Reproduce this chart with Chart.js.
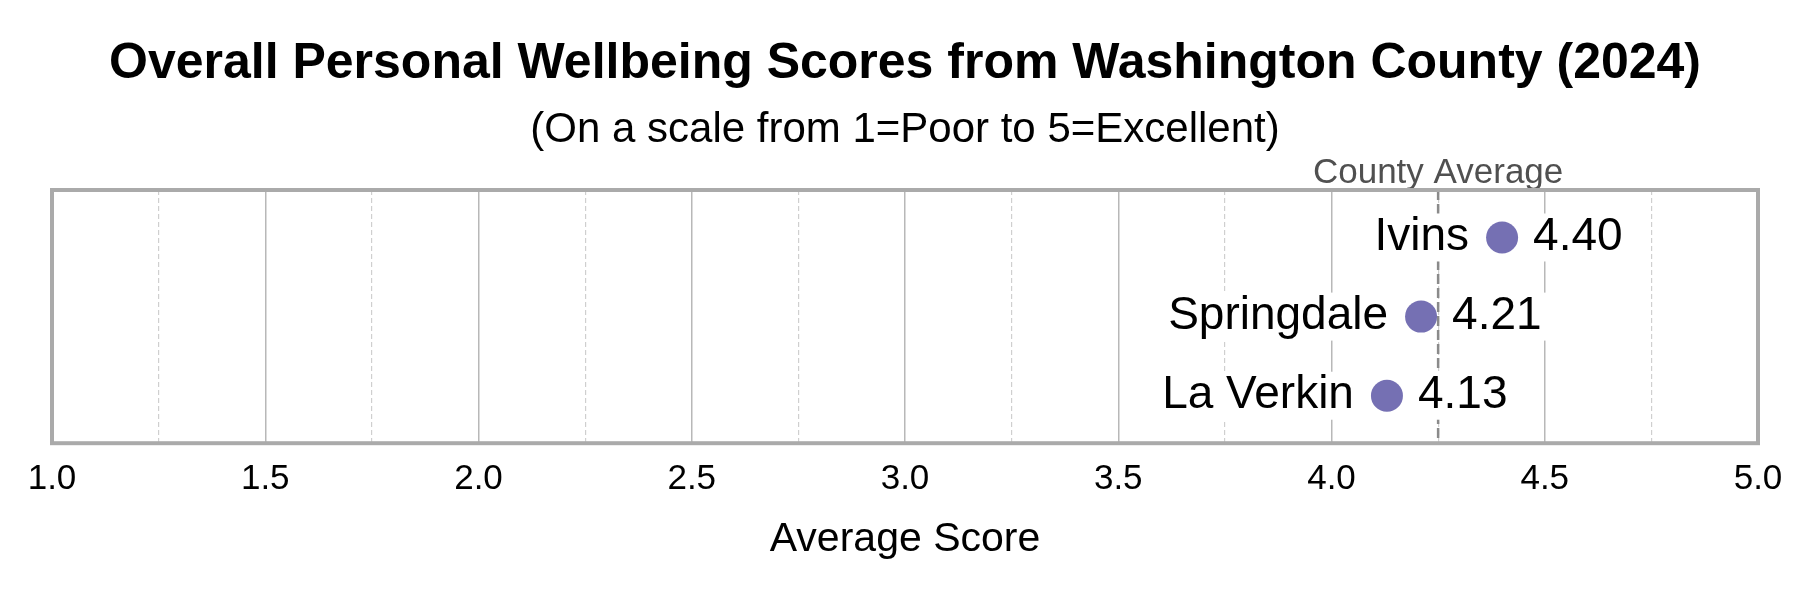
<!DOCTYPE html>
<html>
<head>
<meta charset="utf-8">
<title>Overall Personal Wellbeing Scores</title>
<script src="https://cdn.jsdelivr.net/npm/chart.js@4.4.1/dist/chart.umd.min.js"></script>
<style>
  html, body { margin: 0; padding: 0; background: #fff; }
  #wrap { width: 1800px; height: 600px; }
</style>
</head>
<body>
<div id="wrap"><canvas id="chart"></canvas></div>
<script>
// --- DATA ---
const places = ["Ivins", "Springdale", "La Verkin"];
const scores = [4.40, 4.21, 4.13];
const countyAverage = 4.25;
const tickValues = [1.0, 1.5, 2.0, 2.5, 3.0, 3.5, 4.0, 4.5, 5.0];
const minorTickValues = [1.25, 1.75, 2.25, 2.75, 3.25, 3.75, 4.25, 4.75];

// --- STYLE ---
const FONT = "'Liberation Sans', Arial, sans-serif";
const DOT = "#7570b3";

Chart.defaults.font.family = FONT;
Chart.defaults.color = "#000";

const isMajor = (v) => tickValues.includes(v);
const isMinor = (c) => c.tick && minorTickValues.includes(c.tick.value);

// dashed county average line + its label above the frame
const countyLine = {
  id: "countyLine",
  beforeDatasetsDraw(chart) {
    const { ctx, chartArea: a, scales: { x } } = chart;
    const px = x.getPixelForValue(countyAverage);
    ctx.save();
    ctx.strokeStyle = "#8a8a8a";
    ctx.lineWidth = 2.5;
    ctx.setLineDash([10, 4]);
    ctx.beginPath();
    ctx.moveTo(px, a.top);
    ctx.lineTo(px, a.bottom);
    ctx.stroke();
    ctx.setLineDash([]);
    ctx.fillStyle = "#505050";
    ctx.font = `35px ${FONT}`;
    ctx.textAlign = "center";
    ctx.textBaseline = "alphabetic";
    ctx.fillText("County Average", px, a.top - 7);
    ctx.restore();
  }
};

// name on the left, value on the right, each on a white box
const pointLabels = {
  id: "pointLabels",
  afterDatasetsDraw(chart) {
    const { ctx } = chart;
    const meta = chart.getDatasetMeta(0);
    ctx.save();
    ctx.font = `46px ${FONT}`;
    ctx.textBaseline = "middle";
    meta.data.forEach((pt, i) => {
      const r = pt.options.radius;
      const name = places[i];
      const val = scores[i].toFixed(2);
      const nameRight = pt.x - r - 17;
      const valLeft = pt.x + r + 15;
      const nw = ctx.measureText(name).width;
      const vw = ctx.measureText(val).width;
      ctx.fillStyle = "#fff";
      ctx.fillRect(nameRight - nw - 7, pt.y - 24, nw + 14, 48);
      ctx.fillRect(valLeft - 7, pt.y - 24, vw + 14, 48);
      ctx.fillStyle = "#000";
      ctx.textAlign = "right";
      ctx.fillText(name, nameRight, pt.y);
      ctx.textAlign = "left";
      ctx.fillText(val, valLeft, pt.y);
    });
    ctx.restore();
  }
};

const frame = {
  id: "frame",
  afterDraw(chart) {
    const { ctx, chartArea: a } = chart;
    ctx.save();
    ctx.strokeStyle = "#aaaaaa";
    ctx.lineWidth = 4;
    ctx.strokeRect(a.left, a.top, a.right - a.left, a.bottom - a.top);
    ctx.restore();
  }
};

new Chart(document.getElementById("chart"), {
  type: "scatter",
  data: {
    datasets: [
      {
        data: scores.map((s, i) => ({ x: s, y: i })),
        backgroundColor: DOT,
        borderWidth: 0,
        pointRadius: 16,
        pointHoverRadius: 16,
      },
    ],
  },
  options: {
    responsive: true,
    maintainAspectRatio: false,
    animation: false,
    layout: { padding: { top: 0, left: 52, right: 42, bottom: 35.6 } },
    plugins: {
      legend: { display: false },
      tooltip: { enabled: false },
      title: {
        display: true,
        text: "Overall Personal Wellbeing Scores from Washington County (2024)",
        font: { size: 50, weight: "bold" },
        color: "#000",
        padding: { top: 34.5, bottom: 0 },
      },
      subtitle: {
        display: true,
        text: "(On a scale from 1=Poor to 5=Excellent)",
        font: { size: 42 },
        color: "#000",
        padding: { top: 10.5, bottom: 34.6 },
      },
    },
    scales: {
      x: {
        type: "linear",
        min: 1,
        max: 5,
        ticks: {
          stepSize: 0.25,
          autoSkip: false,
          maxRotation: 0,
          padding: 15,
          font: { size: 35 },
          color: "#000",
          callback: (v) => (isMajor(v) ? v.toFixed(1) : ""),
        },
        grid: {
          drawTicks: false,
          color: (c) => (isMinor(c) ? "#cfcfcf" : "#b8b8b8"),
          lineWidth: (c) => (isMinor(c) ? 1.2 : 1.5),
        },
        border: {
          display: false,
          dash: (c) => (isMinor(c) ? [5, 3] : []),
        },
        title: {
          display: true,
          text: "Average Score",
          font: { size: 41 },
          color: "#000",
          padding: { top: 0, bottom: 0 },
        },
      },
      y: {
        type: "linear",
        min: -0.6,
        max: 2.6,
        reverse: true,
        display: false,
      },
    },
  },
  plugins: [countyLine, pointLabels, frame],
});
</script>
</body>
</html>
